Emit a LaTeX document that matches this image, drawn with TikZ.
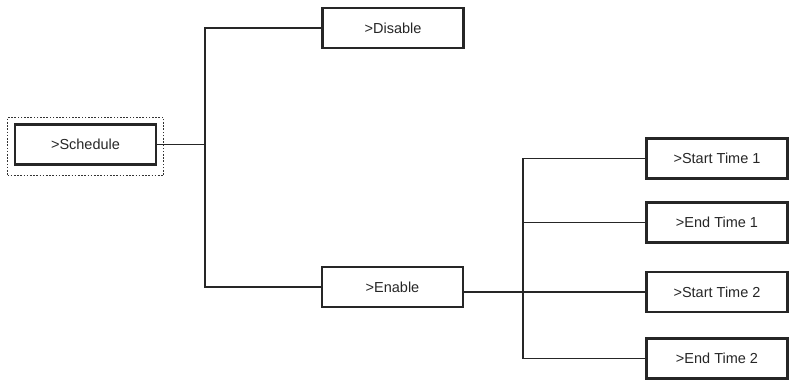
\documentclass[tikz,border=0pt]{standalone}
\usepackage{fontspec}
\setmainfont{Liberation Sans}
\tikzset{
  menubox/.style={draw=black!85, line width=2.4pt, minimum width=141pt, minimum height=40pt,
    inner sep=0pt, text=black!85, font=\fontsize{14.5}{17}\selectfont},
  link/.style={draw=black!85, line width=1.6pt},
  selframe/.style={draw=black!80, line width=1.1pt, dash pattern=on 1.6pt off 1.6pt,
    minimum width=156pt, minimum height=58pt, inner sep=0pt}
}
\begin{document}
\begin{tikzpicture}[x=1pt,y=-1pt]
\useasboundingbox (0,0) rectangle (791,380);
% left part
\node[selframe] (frame) at (85.5,146.5) {};
\node[menubox] (schedule) at (85.5,144.5) {>Schedule};
\node[menubox] (disable) at (393,28) {>Disable};
\node[menubox] (enable) at (392.5,287) {>Enable};
\coordinate (fork) at (205,144.5);
\draw[link] (schedule.east) -- (fork);
\draw[link] (disable.west) -| (fork) |- (enable.west);
% right part
\foreach \n/\y/\txt in {st1/158.5/{>Start Time 1},et1/222.5/{>End Time 1},
                        st2/292/{>Start Time 2},et2/358.5/{>End Time 2}}{
  \node[menubox] (\n) at (717,\y) {\txt};
}
\coordinate (fork2) at (523,292);
\draw[link] (st1.west) -| (fork2) |- (et2.west);
\draw[link] (et1.west) -- (et1.west -| fork2);
\draw[link] (st2.west -| enable.east) -- (st2.west);
\end{tikzpicture}
\end{document}
